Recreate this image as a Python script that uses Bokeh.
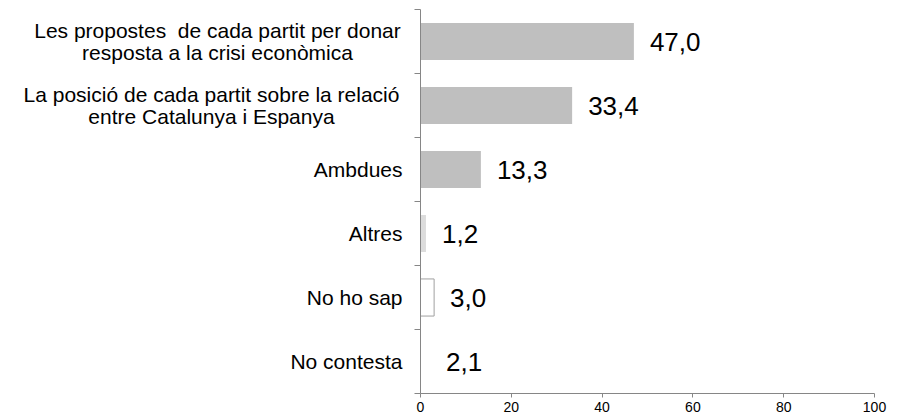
from bokeh.plotting import figure
from bokeh.layouts import row
from bokeh.models import Range1d, FixedTicker, ColumnDataSource
from bokeh.embed import file_html
from bokeh.resources import INLINE
from bokeh.core.properties import value

# ---- data ----
categories = [
    ["Les propostes\u00a0 de cada partit per donar", "resposta a la crisi econòmica"],
    ["La posició de cada partit sobre la relació", "entre Catalunya i Espanya"],
    ["Ambdues"],
    ["Altres"],
    ["No ho sap"],
    ["No contesta"],
]
values = [47.0, 33.4, 13.3, 1.2, 3.0, 2.1]
x_ticks = [0, 20, 40, 60, 80, 100]

# ---- styles ----
fills = ["#bfbfbf", "#bfbfbf", "#bfbfbf", "#dcdcdc", "#ffffff", "#ffffff"]
lines = [None, None, None, None, "#a0a0a0", None]
FONT = "Liberation Sans"
AXIS = "#868686"
TOP, BOTTOM = 9, 26
LEFT_W = 408
# label anchor (px in the label panel) for each category
lab_x = [217, 211, 402, 402, 402, 402]

n = len(categories)
yr = Range1d(n, 0)

# ---- label panel ----
pl = figure(width=LEFT_W, height=419, output_backend="svg", toolbar_location=None,
            x_range=Range1d(0, LEFT_W), y_range=yr,
            min_border_left=0, min_border_right=0, min_border_top=TOP,
            min_border_bottom=BOTTOM)
pl.axis.visible = False
pl.grid.visible = False
pl.outline_line_color = None

lx, ly, lyo, lt, la = [], [], [], [], []
for i, lab in enumerate(categories):
    k = len(lab)
    for j, line in enumerate(lab):
        lx.append(lab_x[i])
        ly.append(i + 0.5)
        lyo.append((j - (k - 1) / 2) * 22)
        lt.append(line)
        la.append("right" if k == 1 else "center")
pl.text(x="x", y="y", y_offset="yo", text="t", text_align="a",
        text_baseline="middle", text_font=value(FONT), text_font_size="21px",
        text_color="#000000",
        source=ColumnDataSource(dict(x=lx, y=ly, yo=lyo, t=lt, a=la)))

# ---- chart ----
p = figure(width=897 - LEFT_W, height=419, output_backend="svg", toolbar_location=None,
           x_range=Range1d(0, 100), y_range=yr,
           min_border_left=12, min_border_right=23, min_border_top=TOP,
           min_border_bottom=BOTTOM)
p.outline_line_color = None
p.grid.visible = False

ys = [i + 0.5 for i in range(n)]
src = ColumnDataSource(dict(y=ys, v=values, fill=fills,
                            line=[l if l else "rgba(0,0,0,0)" for l in lines],
                            lab=[f"{v:.1f}".replace(".", ",") for v in values]))
p.hbar(y="y", left=0, right="v", height=0.58, fill_color="fill",
       line_color="line", line_width=1, source=src)
p.text(x="v", y="y", text="lab", x_offset=16, text_align="left",
       text_baseline="middle", text_font=value(FONT), text_font_size="26px",
       text_color="#000000", source=src)

xa = p.xaxis[0]
xa.ticker = FixedTicker(ticks=x_ticks, minor_ticks=[])
xa.axis_line_color = AXIS
xa.major_tick_line_color = AXIS
xa.major_tick_in = 0
xa.major_tick_out = 4
xa.major_label_standoff = 4
xa.major_label_text_font = FONT
xa.major_label_text_font_size = "14px"
xa.major_label_text_color = "#000000"

ya = p.yaxis[0]
ya.ticker = FixedTicker(ticks=list(range(n + 1)), minor_ticks=[])
ya.major_label_overrides = {i: "" for i in range(n + 1)}
ya.axis_line_color = AXIS
ya.major_tick_line_color = AXIS
ya.major_tick_in = 0
ya.major_tick_out = 6
ya.major_label_standoff = 0
ya.major_label_text_font_size = "1px"

layout = row(pl, p, spacing=0)
open("out.html", "w").write(file_html(layout, INLINE))
